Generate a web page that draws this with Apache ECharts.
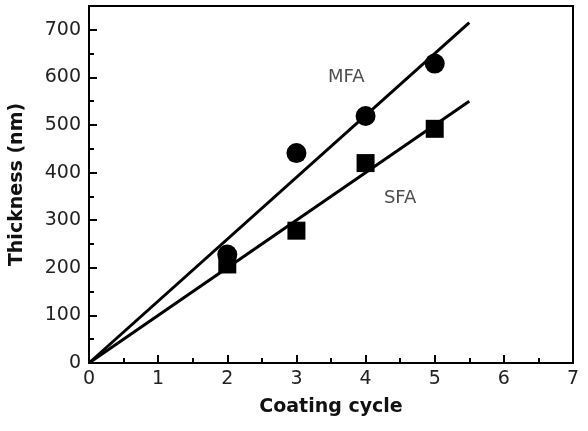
<!DOCTYPE html>
<html>
<head>
<meta charset="utf-8">
<script src="https://cdn.jsdelivr.net/npm/echarts@6/dist/echarts.min.js"></script>
<style>
    html, body { margin: 0; padding: 0; background: #fff; }
    #chart { width: 588px; height: 431px; }
</style>
</head>
<body>
<div id="chart"></div>
<script>
const cycles = [2, 3, 4, 5];
const mfaThickness = [228, 441, 519, 629];
const sfaThickness = [207, 278, 420, 492];

// Linear fits through the origin, drawn out to cycle 5.5
const fitCycles = [0, 5.5];
const mfaFit = [0, 715];
const sfaFit = [0, 550];

// In-plot labels
const labelNames = ['MFA', 'SFA'];
const labelCycles = [3.72, 4.5];
const labelThickness = [600, 346];

const font = '"DejaVu Sans", "Liberation Sans", Arial, sans-serif';

function pairs(xs, ys) {
    return xs.map((x, i) => [x, ys[i]]);
}

const chart = echarts.init(document.getElementById('chart'), null, { renderer: 'canvas' });

const axisCommon = {
    type: 'value',
    nameLocation: 'middle',
    nameTextStyle: { fontFamily: font, fontSize: 19, fontWeight: 'bold', color: '#111' },
    axisLine: { show: true, lineStyle: { color: '#000', width: 2 } },
    axisTick: { show: true, inside: true, length: 8, lineStyle: { color: '#000', width: 2 } },
    minorTick: { show: true, splitNumber: 2, length: 5, lineStyle: { color: '#000', width: 2 } },
    axisLabel: { fontFamily: font, fontSize: 19, color: '#222' },
    splitLine: { show: false }
};

chart.setOption({
    backgroundColor: '#fff',
    animation: false,
    grid: {
        left: 88, right: 15, top: 6, bottom: 68,
        show: true, borderColor: '#000', borderWidth: 2
    },
    xAxis: Object.assign({}, axisCommon, {
        name: 'Coating cycle',
        nameGap: 35,
        min: 0, max: 7, interval: 1,
        axisLabel: Object.assign({}, axisCommon.axisLabel, { margin: 7 })
    }),
    yAxis: Object.assign({}, axisCommon, {
        name: 'Thickness (nm)',
        nameGap: 62,
        min: 0, max: 750, interval: 100,
        axisLabel: Object.assign({}, axisCommon.axisLabel, {
            margin: 8,
            formatter: v => (v % 100 === 0 ? String(v) : '')
        })
    }),
    series: [
        {
            name: 'MFA fit',
            type: 'line',
            data: pairs(fitCycles, mfaFit),
            symbol: 'none',
            lineStyle: { color: '#000', width: 3 }
        },
        {
            name: 'SFA fit',
            type: 'line',
            data: pairs(fitCycles, sfaFit),
            symbol: 'none',
            lineStyle: { color: '#000', width: 3 }
        },
        {
            name: 'MFA',
            type: 'scatter',
            data: pairs(cycles, mfaThickness),
            symbol: 'circle',
            symbolSize: 20,
            itemStyle: { color: '#000', opacity: 1 }
        },
        {
            name: 'SFA',
            type: 'scatter',
            data: pairs(cycles, sfaThickness),
            symbol: 'rect',
            symbolSize: 18,
            itemStyle: { color: '#000', opacity: 1 }
        },
        {
            name: 'labels',
            type: 'scatter',
            symbolSize: 0,
            data: labelNames.map((n, i) => ({ name: n, value: [labelCycles[i], labelThickness[i]] })),
            label: {
                show: true,
                position: 'inside',
                formatter: p => p.name,
                fontFamily: font,
                fontSize: 18,
                color: '#222'
            }
        }
    ]
});
</script>
</body>
</html>
